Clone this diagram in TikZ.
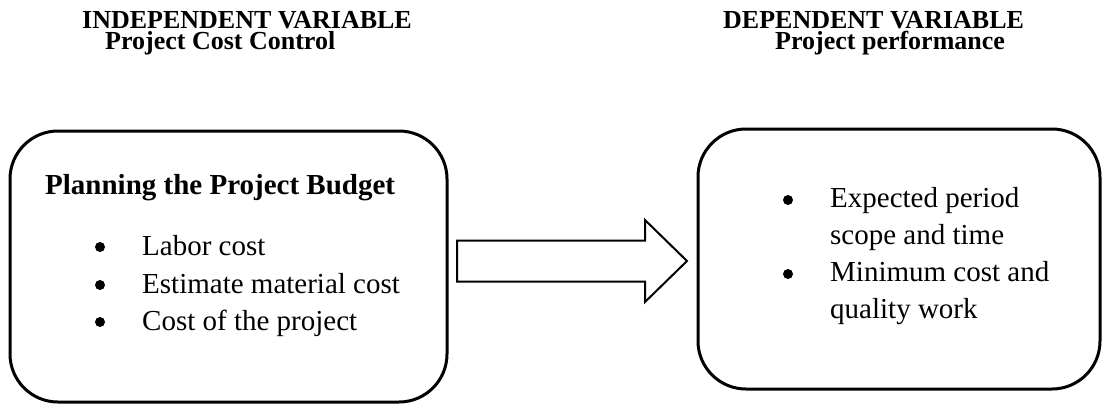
\documentclass[tikz,border=0pt]{standalone}
\usepackage{fontspec}
\setmainfont{Liberation Serif}
\usetikzlibrary{calc}

\begin{document}
\begin{tikzpicture}
      [x=1pt,y=-1pt
      ,box/.style={draw,line width=3,rounded corners=48,inner sep=0}
      ,head/.style={anchor=base west,inner sep=0,font=\fontsize{26}{21}\selectfont\bfseries}
      ,txt/.style={anchor=base west,inner sep=0,font=\fontsize{29}{37}\selectfont}
      ,dot/.style={circle,fill=black,inner sep=0,minimum size=10}
      ,arr/.style={draw,line width=2,line join=miter}]
        \useasboundingbox (0,0) rectangle (1104,404);
        % headings
        \node[head] (indeptitle) at (82,29) {INDEPENDENT VARIABLE};
        \node[head] (indepsub)   at (105,50) {Project Cost Control};
        \node[head] (deptitle)   at (723,29) {DEPENDENT VARIABLE};
        \node[head] (depsub)     at (775,50) {Project performance};
        % boxes
        \node[box,minimum width=437,minimum height=271] (indep) at (228.5,266.5) {};
        \node[box,minimum width=402,minimum height=260] (dep)   at (899,259) {};
        % left box
        \node[txt,font=\fontsize{29}{37}\selectfont\bfseries] (budget) at (45,194) {Planning the Project Budget};
        \foreach \t/\y [count=\i] in {Labor cost/255,Estimate material cost/293,Cost of the project/330}{
          \node[dot] (ldot\i)  at (100,\y-8) {};
          \node[txt] (litem\i) at (142,\y) {\t};
        }
        % right box
        \node[dot] (rdot1)   at (788,200) {};
        \node[txt] (ritem1)  at (830,207) {Expected period};
        \node[txt] (ritem1b) at (830,244) {scope and time};
        \node[dot] (rdot2)   at (788,274) {};
        \node[txt] (ritem2)  at (830,281) {Minimum cost and};
        \node[txt] (ritem2b) at (830,318) {quality work};
        % block arrow
        \coordinate (tail) at (457,261);
        \coordinate (tip)  at (687,261);
        \draw[arr] ($(tail)+(0,-20.5)$) -- ($(tip)+(-42,-20.5)$) -- ($(tip)+(-42,-41)$)
                -- (tip) -- ($(tip)+(-42,41)$) -- ($(tip)+(-42,20.5)$)
                -- ($(tail)+(0,20.5)$) -- cycle;
      \end{tikzpicture}
\end{document}
